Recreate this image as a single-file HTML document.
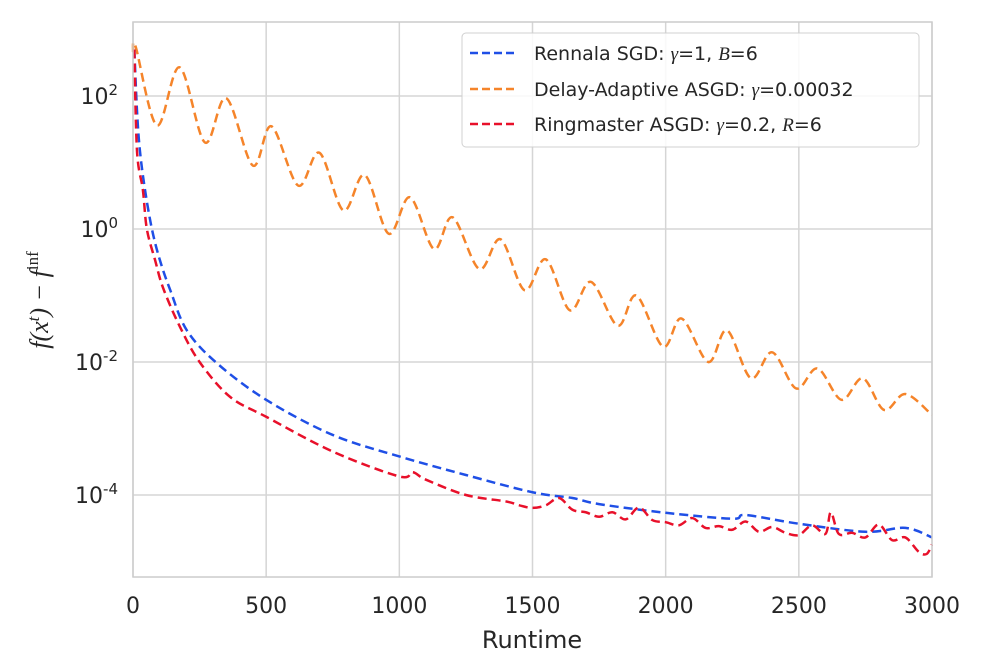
<!DOCTYPE html>
<html><head><meta charset="utf-8"><style>
body{margin:0;background:#fff;}
svg text{font-family:"DejaVu Sans","Liberation Sans",sans-serif;fill:#262626;}
.m{font-family:"Liberation Serif",serif;font-style:italic;}
</style></head><body>
<svg id="chart" width="992" height="662">
<g id="grid"></g><g id="series"></g><g id="labels"></g>
<rect x="133" y="22" width="799" height="555" fill="none" stroke="#cccccc" stroke-width="1.5"/>
<text x="532" y="648" font-size="24" text-anchor="middle">Runtime</text>
<text transform="translate(48,300) rotate(-90)" font-size="26" text-anchor="middle" class="m">f(x<tspan dy="-9" font-size="17">t</tspan><tspan dy="9">) − f</tspan><tspan dy="-10" font-size="17" font-style="normal">inf</tspan></text>
<g>
<rect x="462" y="33" width="457" height="114" rx="4" fill="#fff" fill-opacity="0.85" stroke="#d0d0d0"/>
<g>
<line x1="470" y1="53" x2="515" y2="53" stroke="#1f4fe6" stroke-width="2.5" stroke-dasharray="8,4"/>
<text x="534" y="60" font-size="19">Rennala SGD: <tspan class="m">γ</tspan>=1, <tspan class="m">B</tspan>=6</text></g>
<g>
<line x1="470" y1="89" x2="515" y2="89" stroke="#f5842a" stroke-width="2.5" stroke-dasharray="8,4"/>
<text x="534" y="96" font-size="19">Delay-Adaptive ASGD: <tspan class="m">γ</tspan>=0.00032</text></g>
<g>
<line x1="470" y1="124" x2="515" y2="124" stroke="#e8102a" stroke-width="2.5" stroke-dasharray="8,4"/>
<text x="534" y="131" font-size="19">Ringmaster ASGD: <tspan class="m">γ</tspan>=0.2, <tspan class="m">R</tspan>=6</text></g>
</g>
</svg>
<script>
const xTicks=[0,500,1000,1500,2000,2500,3000];
const yTickExp=[2,0,-2,-4];
const orangeT=[0,10,90,175,270,350,450,520,620,700,790,870,960,1040,1130,1200,1300,1380,1470,1550,1640,1720,1820,1890,1990,2060,2160,2230,2320,2400,2490,2570,2660,2740,2820,2900,3000];
const orangeV=[450,550,36,270,20,93,9,35,4.5,14,1.9,6.5,0.85,3,0.5,1.5,0.25,0.7,0.12,0.35,0.06,0.16,0.035,0.1,0.017,0.045,0.01,0.03,0.0057,0.014,0.004,0.008,0.0027,0.0057,0.0019,0.0033,0.0016];
const blueT=[5,15,26,45,71,101,140,202,315,500,750,1000,1250,1500,1650,1750,2000,2250,2300,2500,2750,2900,3000];
const blueV=[500,60,15,3.9,1,0.34,0.12,0.03,0.0096,0.0027,0.0008,0.00038,0.0002,0.00011,0.00009,0.000073,0.000054,0.000044,0.00005,0.000037,0.000028,0.000032,0.000023];
const redT=[5,15,37,52,83,113,176,250,364,500,750,1000,1050,1100,1250,1400,1450,1500,1550,1600,1650,1700,1750,1800,1850,1900,1950,2000,2050,2100,2150,2200,2250,2300,2350,2400,2450,2500,2550,2600,2620,2650,2700,2750,2800,2850,2900,2950,2980,3000];
const redV=[500,15,3.9,1,0.34,0.13,0.034,0.01,0.003,0.0015,0.00045,0.00019,0.00022,0.00017,0.0001,0.00008,0.00007,0.000064,0.00007,0.00009,0.00006,0.000055,0.000047,0.000055,0.000043,0.000065,0.000042,0.000039,0.000035,0.000045,0.000032,0.000034,0.00003,0.00004,0.000028,0.000033,0.000027,0.000025,0.000035,0.000026,0.000055,0.000026,0.000027,0.000023,0.000036,0.000021,0.000023,0.000014,0.000013,0.000018];
const X0=133,X1=932,Y0=22,Y1=577;
const x=t=>X0+(X1-X0)*t/3000;
const y=v=>229-66.5*Math.log10(v);
const NS='http://www.w3.org/2000/svg';
const grid=document.getElementById('grid'),lab=document.getElementById('labels'),ser=document.getElementById('series');
function mk(tag,at,parent){const e=document.createElementNS(NS,tag);for(const k in at)e.setAttribute(k,at[k]);parent.appendChild(e);return e;}
xTicks.forEach(t=>{
 const l=mk('line',{x1:x(t),x2:x(t),y1:Y0,y2:Y1,stroke:'#d5d5d5','stroke-width':1.5},grid);
 
 
 const tx=mk('text',{x:x(t),y:613,'font-size':22,'text-anchor':'middle'},lab);
 
 
 tx.textContent=t;
});
yTickExp.forEach(e=>{
 const yy=y(Math.pow(10,e));
 const l=mk('line',{x1:X0,x2:X1,y1:yy,y2:yy,stroke:'#d5d5d5','stroke-width':1.5},grid);
 
 
 const tx=mk('text',{x:118,y:yy+8,'font-size':22,'text-anchor':'end'},lab);
 
 
 tx.innerHTML='10<tspan dy="-9" font-size="15">'+e+'</tspan>';
});
function path(T,V){
 const p=T.map((t,i)=>[x(t),y(V[i])]);
 let d='M'+p[0][0]+','+p[0][1];
 for(let i=0;i<p.length-1;i++){
  const a=p[i-1]||p[i],b=p[i],c=p[i+1],e=p[i+2]||c;
  d+=' C'+(b[0]+(c[0]-a[0])/6)+','+(b[1]+(c[1]-a[1])/6)+' '+(c[0]-(e[0]-b[0])/6)+','+(c[1]-(e[1]-b[1])/6)+' '+c[0]+','+c[1];
 }
 return d;
}
[[orangeT,orangeV,'#f5842a','orange-delay-adaptive-line'],[blueT,blueV,'#1f4fe6','blue-rennala-line'],[redT,redV,'#e8102a','red-ringmaster-line']].forEach(s=>{
 const p=mk('path',{d:path(s[0],s[1]),fill:'none',stroke:s[2],'stroke-width':2.5,'stroke-dasharray':'9,5'},ser);
 
 
});
</script>
</body></html>
